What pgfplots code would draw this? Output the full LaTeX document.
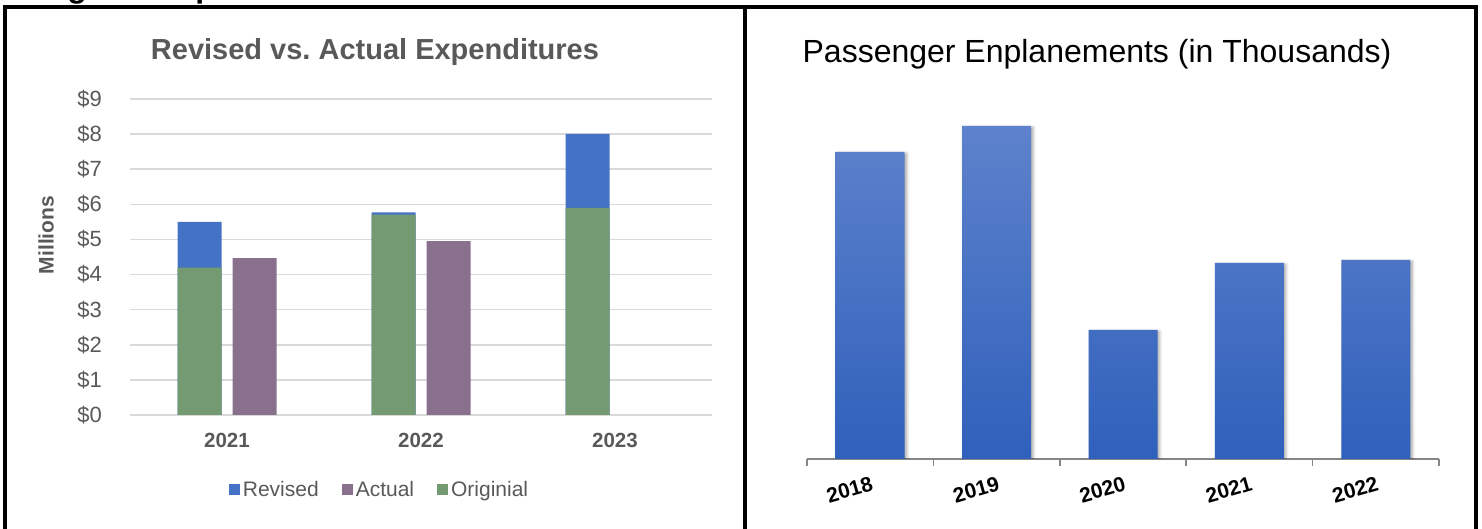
\documentclass[border=0pt]{standalone}
\usepackage{fontspec}
\setmainfont{Liberation Sans}
\usepackage{pgfplots}
\pgfplotsset{compat=1.18}
\usetikzlibrary{shadows.blur}
\definecolor{rev}{RGB}{68,114,196}
\definecolor{act}{RGB}{137,112,141}
\definecolor{ori}{RGB}{115,154,113}
\definecolor{txtgray}{RGB}{89,89,89}
\definecolor{gridgray}{RGB}{217,217,217}
\definecolor{enptop}{RGB}{94,130,204}
\definecolor{enpbot}{RGB}{47,96,187}
\definecolor{axgray}{RGB}{134,134,134}
\begin{document}
\begin{tikzpicture}
\useasboundingbox (0pt,0pt) rectangle (1482pt,529pt);
% cut-off heading above the frame
\node[anchor=base west, inner sep=0pt, font=\fontsize{32}{38}\selectfont\bfseries] at (5pt,531.5pt) {Budget Comparison};
% frame
\draw[line width=4pt, line join=miter] (4.5pt,-5pt) -- (4.5pt,522pt) -- (1476pt,522pt) -- (1476pt,-5pt);
\draw[line width=4pt] (744.5pt,522pt) -- (744.5pt,-5pt);

% ---------- left chart ----------
\begin{axis}[
  at={(130pt,114pt)}, anchor=south west, scale only axis,
  width=582pt, height=316pt,
  xmin=-0.5, xmax=2.5, ymin=0, ymax=9,
  axis line style={draw=none},
  major tick length=0pt,
  ymajorgrids, grid style={gridgray, line width=1.5pt},
  ytick={0,1,2,3,4,5,6,7,8,9},
  yticklabels={\$0,\$1,\$2,\$3,\$4,\$5,\$6,\$7,\$8,\$9},
  yticklabel style={font=\fontsize{22}{26}\selectfont, text=txtgray, inner sep=0pt},
  yticklabel shift=28pt,
  xtick={0,1,2}, xticklabels={2021,2022,2023},
  xticklabel style={font=\fontsize{20.5}{24}\selectfont\bfseries, text=txtgray, inner sep=0pt},
  xticklabel shift=18pt,
  legend columns=3,
  legend style={at={(0.4296,-0.237)}, anchor=center, draw=none, fill=none,
    font=\fontsize{21}{25}\selectfont, text=txtgray,
    /tikz/every even column/.append style={column sep=20pt},
    nodes={inner sep=3pt}},
  legend image code/.code={\fill[#1] (0pt,-5.5pt) rectangle (11pt,5.5pt);},
]
\addplot[ybar, bar width=44pt, bar shift=-27.5pt, fill=rev, draw=none] coordinates {(0,5.50) (1,5.77) (2,8.01)};
\addlegendentry{Revised}
\addplot[ybar, bar width=44pt, bar shift=27.5pt, fill=act, draw=none] coordinates {(0,4.47) (1,4.95)};
\addlegendentry{Actual}
\addplot[ybar, bar width=44pt, bar shift=-27.5pt, fill=ori, draw=none] coordinates {(0,4.20) (1,5.71) (2,5.90)};
\addlegendentry{Originial}
\end{axis}
\node[font=\fontsize{29}{34}\selectfont\bfseries, text=txtgray] at (375pt,477pt) {Revised vs.\ Actual Expenditures};
\node[rotate=90, font=\fontsize{21}{25}\selectfont\bfseries, text=txtgray] at (46pt,294pt) {Millions};

% ---------- right chart ----------
\begin{axis}[
  at={(807pt,70pt)}, anchor=south west, scale only axis,
  width=632pt, height=359pt,
  xmin=-0.5, xmax=4.5, ymin=0, ymax=8.975,
  axis x line*=bottom, axis y line=none,
  axis line style={axgray, line width=2pt},
  major tick length=0pt,
  xtick={0,1,2,3,4}, xticklabels={2018,2019,2020,2021,2022},
  xticklabel style={font=\fontsize{21}{25}\selectfont\bfseries, text=black, inner sep=0pt, rotate=16, anchor=north east},
  xticklabel shift=17pt,
  extra x ticks={-0.5,0.5,1.5,2.5,3.5,4.5}, extra x tick labels={},
  extra x tick style={major tick length=7pt, xtick align=outside, tick style={axgray, line width=1.5pt}},
]
\addplot[ybar, bar width=69pt, draw=none, top color=enptop, bottom color=enpbot,
  blur shadow={shadow xshift=2pt, shadow yshift=-1.5pt, shadow blur radius=3pt, shadow opacity=35}]
  coordinates {(0,7.675) (1,8.325) (2,3.225) (3,4.900) (4,4.975)};
\end{axis}
\node[font=\fontsize{32}{38}\selectfont] at (1097pt,475pt) {Passenger Enplanements (in Thousands)};
\end{tikzpicture}
\end{document}
